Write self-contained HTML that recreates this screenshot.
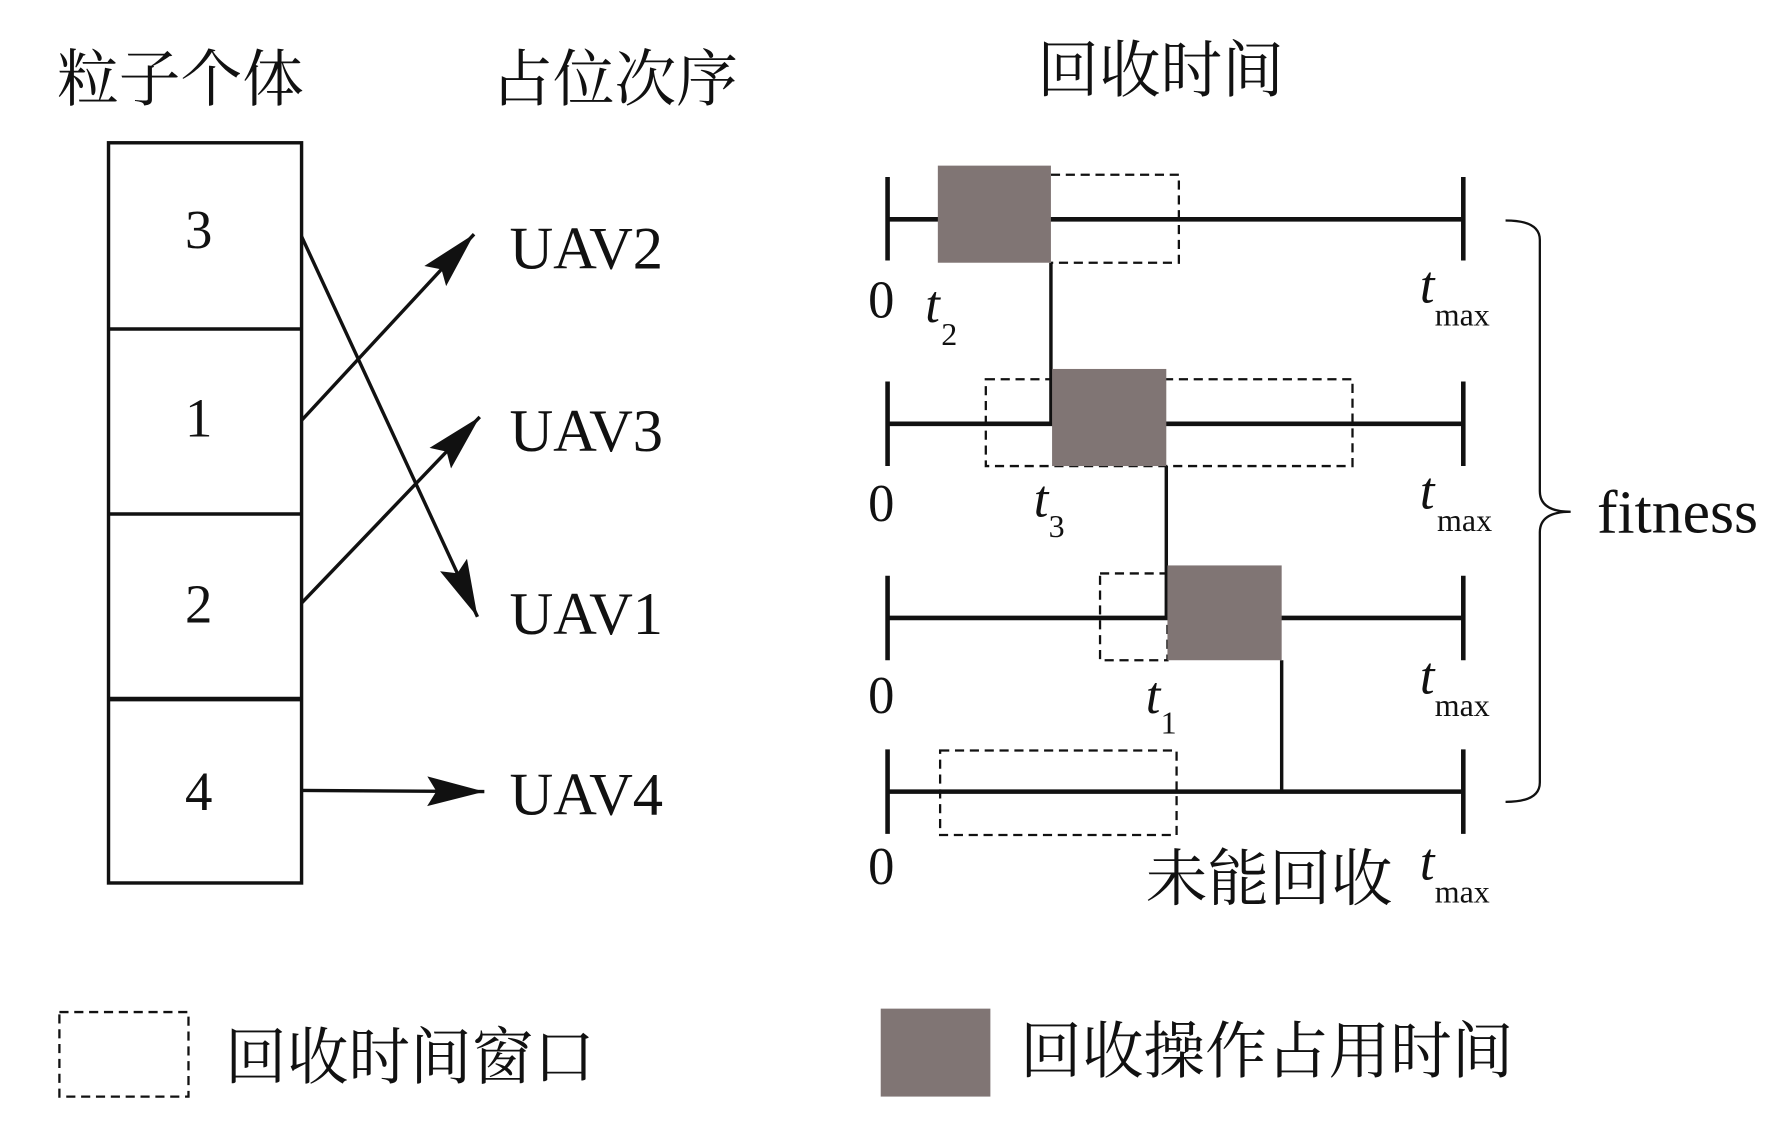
<!DOCTYPE html>
<html><head><meta charset="utf-8"><style>
html,body{margin:0;padding:0;background:#fff;width:1790px;height:1124px;overflow:hidden}
svg{display:block}
.cj{font-family:"Liberation Serif","Noto Serif CJK SC",serif;font-size:54px;fill:#111}
.sr{font-family:"Liberation Serif",serif;fill:#111}
</style></head><body>
<svg width="1790" height="1124" viewBox="0 0 1567 984" preserveAspectRatio="none">
<defs>
<marker id="ab" viewBox="0 0 50 30" refX="50" refY="15" markerWidth="50" markerHeight="30" orient="auto" markerUnits="userSpaceOnUse"><path d="M0,2 L50,15 L0,28 L8,15 z" fill="#111"/></marker></defs>
<text class="cj" x="50" y="88">粒子个体</text>
<text class="cj" x="430" y="88">占位次序</text>
<text class="cj" x="908" y="80">回收时间</text>
<g stroke="#111" stroke-width="3" fill="none">
<rect x="95" y="125" width="169" height="648"/>
<line x1="95" y1="288" x2="264" y2="288"/>
<line x1="95" y1="450" x2="264" y2="450"/>
<line x1="95" y1="612" x2="264" y2="612" stroke-width="4"/>
<line x1="264" y1="207" x2="418" y2="540" marker-end="url(#ab)"/>
<line x1="264" y1="368" x2="415" y2="205" marker-end="url(#ab)"/>
<line x1="264" y1="528" x2="420" y2="365" marker-end="url(#ab)"/>
<line x1="264" y1="692" x2="424" y2="693" marker-end="url(#ab)"/>
</g>
<g class="sr" font-size="48" text-anchor="middle">
<text x="174" y="217">3</text><text x="174" y="382">1</text><text x="174" y="545">2</text><text x="174" y="709">4</text>
</g>
<g class="sr" font-size="53">
<text x="446" y="235">UAV2</text><text x="446" y="395">UAV3</text><text x="446" y="555">UAV1</text><text x="446" y="713">UAV4</text>
</g>
<g stroke="#111" stroke-width="2" fill="none" stroke-dasharray="8,5">
<path d="M920,153 H1032 V230 H920"/>
<rect x="863" y="332" width="321" height="76"/>
<rect x="963" y="502" width="59" height="76"/>
<rect x="823" y="657" width="207" height="74"/>
<rect x="52" y="886" width="113" height="74"/>
</g>
<g stroke="#111" stroke-width="4" fill="none">
<line x1="777" y1="192" x2="1281" y2="192"/><line x1="777" y1="155" x2="777" y2="228"/><line x1="1281" y1="155" x2="1281" y2="228"/>
<line x1="777" y1="371" x2="1281" y2="371"/><line x1="777" y1="334" x2="777" y2="408"/><line x1="1281" y1="334" x2="1281" y2="408"/>
<line x1="777" y1="541" x2="1281" y2="541"/><line x1="777" y1="504" x2="777" y2="578"/><line x1="1281" y1="504" x2="1281" y2="578"/>
<line x1="777" y1="693" x2="1281" y2="693"/><line x1="777" y1="656" x2="777" y2="730"/><line x1="1281" y1="656" x2="1281" y2="730"/>
</g>
<g stroke="#111" stroke-width="3">
<line x1="920" y1="230" x2="920" y2="371"/>
<line x1="1021" y1="408" x2="1021" y2="541"/>
<line x1="1122" y1="578" x2="1122" y2="693"/>
</g>
<g fill="#807574">
<rect x="821" y="145" width="99" height="85"/>
<rect x="921" y="323" width="100" height="85"/>
<rect x="1022" y="495" width="100" height="83"/>
</g>
<g class="sr" font-size="46">
<text x="760" y="278">0</text><text x="760" y="456">0</text><text x="760" y="624">0</text><text x="760" y="774">0</text>
<text x="810" y="282" font-style="italic">t</text><text x="824" y="302" font-size="28">2</text>
<text x="905" y="452" font-style="italic">t</text><text x="918" y="470" font-size="28">3</text>
<text x="1003" y="624" font-style="italic">t</text><text x="1016" y="642" font-size="28">1</text>
<text x="1243" y="265" font-style="italic">t</text><text x="1256" y="285" font-size="28">max</text>
<text x="1243" y="445" font-style="italic">t</text><text x="1258" y="465" font-size="28">max</text>
<text x="1243" y="607" font-style="italic">t</text><text x="1256" y="627" font-size="28">max</text>
<text x="1243" y="770" font-style="italic">t</text><text x="1256" y="790" font-size="28">max</text>
<text x="1398" y="466" font-size="54">fitness</text>
</g>
<path d="M1318,193 Q1348,193 1348,210 V430 Q1348,448 1375,448 Q1348,448 1348,466 V685 Q1348,702 1318,702" stroke="#111" stroke-width="2" fill="none"/>
<text class="cj" x="1003" y="788">未能回收</text>
<text class="cj" x="197" y="944">回收时间窗口</text>
<rect x="771" y="883" width="96" height="77" fill="#807574"/>
<text class="cj" x="893" y="939">回收操作占用时间</text>
</svg>
</body></html>
